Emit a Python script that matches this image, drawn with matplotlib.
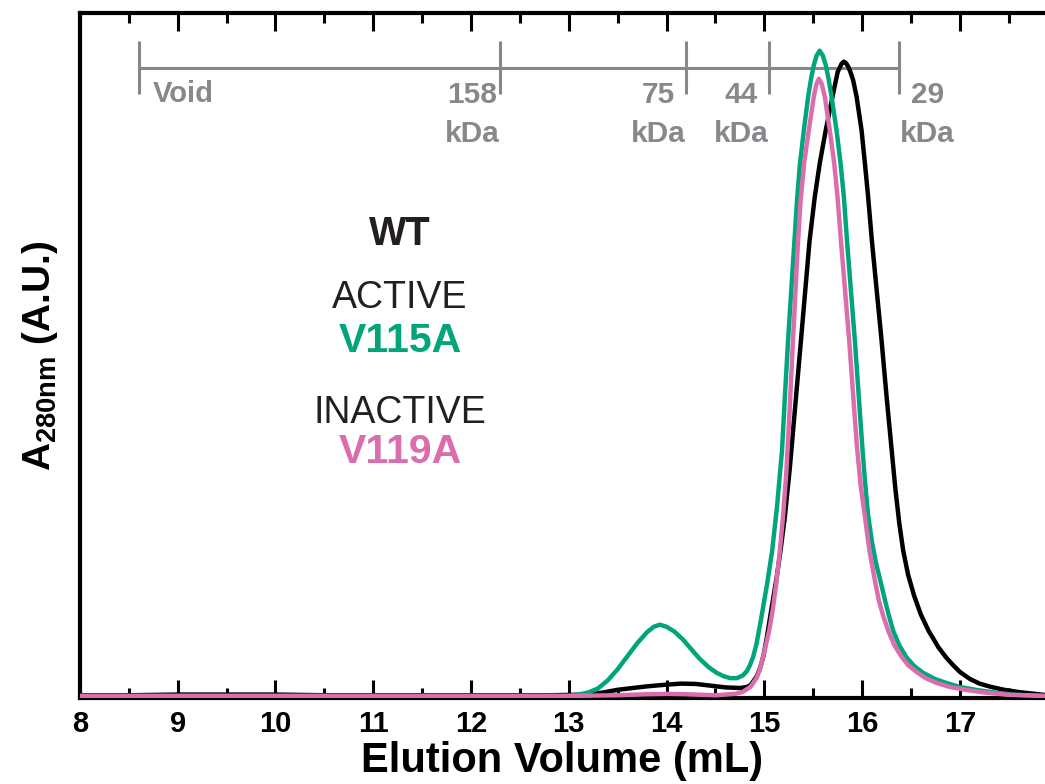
import matplotlib
matplotlib.use("Agg")
import matplotlib.pyplot as plt
from matplotlib.ticker import MultipleLocator

plt.rcParams['font.family'] = ['Liberation Sans', 'DejaVu Sans']
plt.rcParams['mathtext.fontset'] = 'custom'
plt.rcParams['mathtext.rm'] = 'Liberation Sans'
plt.rcParams['mathtext.bf'] = 'Liberation Sans:bold'

# ---------------- data ----------------
wt_x = [8.0, 8.5, 9.0, 9.5, 10.0, 10.5, 11.0, 12.0, 12.8, 13.2, 13.35, 13.5, 13.65, 13.8,
        14.0, 14.15, 14.3, 14.45, 14.6, 14.75, 14.82, 14.86, 14.92, 14.955, 14.99, 15.025,
        15.06, 15.09, 15.125, 15.165, 15.21, 15.26, 15.315, 15.37, 15.462, 15.516, 15.567,
        15.628, 15.697, 15.75, 15.79, 15.813, 15.835, 15.86, 15.885, 15.908, 15.943, 15.994,
        16.028, 16.061, 16.10, 16.198, 16.25, 16.30, 16.34, 16.38, 16.42, 16.47, 16.53, 16.60,
        16.68, 16.78, 16.86, 16.93, 17.0, 17.10, 17.2, 17.31, 17.45, 17.61, 17.87]
wt_y = [0.004, 0.004, 0.005, 0.005, 0.005, 0.004, 0.004, 0.004, 0.004, 0.005, 0.008, 0.012,
        0.0145, 0.017, 0.0195, 0.021, 0.0205, 0.018, 0.0155, 0.0146, 0.016, 0.019, 0.031,
        0.043, 0.061, 0.088, 0.119, 0.145, 0.175, 0.215, 0.265, 0.335, 0.425, 0.515, 0.667,
        0.732, 0.781, 0.829, 0.878, 0.914, 0.926, 0.929, 0.927, 0.921, 0.912, 0.902, 0.878,
        0.829, 0.781, 0.732, 0.667, 0.523, 0.440, 0.365, 0.305, 0.255, 0.215, 0.180, 0.150,
        0.122, 0.098, 0.074, 0.059, 0.048, 0.038, 0.028, 0.021, 0.0165, 0.012, 0.0085, 0.0044]

v115a_x = [8.0, 10.0, 12.0, 13.0, 13.1, 13.2, 13.3, 13.4, 13.5, 13.6, 13.7, 13.8, 13.87, 13.93,
           14.0, 14.08, 14.17, 14.26, 14.34, 14.43, 14.51, 14.58, 14.65, 14.72, 14.78, 14.82,
           14.85, 14.885, 14.92, 14.97, 15.03, 15.08, 15.13, 15.18, 15.21, 15.243, 15.275,
           15.307, 15.335, 15.363, 15.404, 15.448, 15.48, 15.506, 15.535, 15.566, 15.597,
           15.628, 15.655, 15.687, 15.738, 15.779, 15.813, 15.846, 15.925, 16.0, 16.03, 16.06,
           16.10, 16.14, 16.18, 16.23, 16.27, 16.32, 16.38, 16.45, 16.53, 16.62, 16.74, 16.86,
           17.0, 17.17, 17.35, 17.54, 17.87]
v115a_y = [0.003, 0.003, 0.003, 0.003, 0.005, 0.008, 0.014, 0.026, 0.042, 0.061, 0.080, 0.096,
           0.104, 0.107, 0.104, 0.097, 0.085, 0.070, 0.057, 0.045, 0.037, 0.032, 0.029, 0.029,
           0.033, 0.039, 0.047, 0.060, 0.079, 0.118, 0.168, 0.215, 0.280, 0.360, 0.440, 0.523,
           0.595, 0.666, 0.728, 0.778, 0.829, 0.878, 0.906, 0.924, 0.938, 0.945, 0.938, 0.924,
           0.905, 0.878, 0.829, 0.781, 0.732, 0.666, 0.523, 0.370, 0.315, 0.268, 0.228, 0.198,
           0.175, 0.145, 0.122, 0.097, 0.077, 0.060, 0.047, 0.037, 0.028, 0.022, 0.016, 0.0117,
           0.008, 0.0048, 0.003]

v119a_x = [8.0, 10.0, 12.0, 13.0, 13.5, 13.8, 14.0, 14.2, 14.5, 14.7, 14.78, 14.86, 14.92,
           14.95, 14.98, 15.015, 15.05, 15.085, 15.12, 15.155, 15.19, 15.225, 15.255, 15.285,
           15.315, 15.34, 15.37, 15.407, 15.455, 15.506, 15.53, 15.557, 15.585, 15.618, 15.669,
           15.714, 15.748, 15.784, 15.867, 15.945, 15.985, 16.028, 16.075, 16.13, 16.17, 16.215,
           16.27, 16.33, 16.40, 16.47, 16.556, 16.65, 16.761, 16.9, 17.067, 17.25, 17.477, 17.87]
v119a_y = [0.003, 0.003, 0.003, 0.003, 0.004, 0.0055, 0.006, 0.0055, 0.004, 0.006, 0.009,
           0.0165, 0.029, 0.040, 0.056, 0.077, 0.099, 0.128, 0.165, 0.210, 0.263, 0.330, 0.410,
           0.500, 0.585, 0.655, 0.725, 0.781, 0.829, 0.878, 0.895, 0.904, 0.897, 0.878, 0.829,
           0.781, 0.732, 0.666, 0.523, 0.370, 0.310, 0.265, 0.215, 0.172, 0.143, 0.120, 0.097,
           0.077, 0.061, 0.048, 0.038, 0.029, 0.022, 0.016, 0.0117, 0.008, 0.0048, 0.003]

marker_pos = [8.60, 12.30, 14.20, 15.05, 16.38]
marker_num = ["Void", "158", "75", "44", "29"]
marker_unit = ["", "kDa", "kDa", "kDa", "kDa"]
marker_side = [1, -1, -1, -1, 1]

xticks = [8, 9, 10, 11, 12, 13, 14, 15, 16, 17]

# ---------------- style ----------------
BLACK = "#000000"
GREEN = "#00A67A"
PINK = "#DB6DAD"
GRAY = "#88888C"
TXT = "#231F20"

fig = plt.figure(figsize=(10.45, 7.84), dpi=100)
ax = fig.add_axes([0.0764, 0.1097, 0.9236, 0.8737])

ax.plot(wt_x, wt_y, color=BLACK, lw=3.2, zorder=3, solid_joinstyle='round')
ax.plot(v115a_x, v115a_y, color=GREEN, lw=3.2, zorder=4, solid_joinstyle='round')
ax.plot(v119a_x, v119a_y, color=PINK, lw=3.2, zorder=5, solid_joinstyle='round')

ax.set_xlim(8.0, 17.87)
ax.set_ylim(0, 1.0)

# calibration marker bar
y_line = 0.9197
ax.plot([marker_pos[0], marker_pos[-1]], [y_line, y_line], color=GRAY, lw=2.2, zorder=2,
        solid_capstyle='butt')
for p, num, unit, side in zip(marker_pos, marker_num, marker_unit, marker_side):
    ax.plot([p, p], [0.8818, 0.959], color=GRAY, lw=2.2, zorder=2, solid_capstyle='butt')
    if unit == "":
        ax.text(p + 0.15, 0.8701, num, color=GRAY, fontsize=21, fontweight='bold',
                ha='left', va='baseline')
    else:
        cx = p + side * 0.285
        ax.text(cx, 0.8686, num, color=GRAY, fontsize=21.5, fontweight='bold',
                ha='center', va='baseline')
        ax.text(cx, 0.8117, unit, color=GRAY, fontsize=21.5, fontweight='bold',
                ha='center', va='baseline')

# annotations
tx = 11.273
ax.text(tx, 0.6613, "WT", color=TXT, fontsize=28.5, fontweight='bold', ha='center', va='baseline')
ax.text(tx, 0.5693, "ACTIVE", color=TXT, fontsize=27, ha='center', va='baseline')
ax.text(tx, 0.5051, "V115A", color=GREEN, fontsize=29.5, fontweight='bold', ha='center', va='baseline')
ax.text(tx, 0.4015, "INACTIVE", color=TXT, fontsize=27, ha='center', va='baseline')
ax.text(tx, 0.3431, "V119A", color=PINK, fontsize=29.5, fontweight='bold', ha='center', va='baseline')

# axes styling
for s in ['left', 'top', 'bottom']:
    ax.spines[s].set_linewidth(3.0)
ax.spines['right'].set_visible(False)

ax.set_xticks(xticks)
ax.set_xticklabels([str(t) for t in xticks])
ax.xaxis.set_minor_locator(MultipleLocator(0.5))
ax.tick_params(axis='x', which='major', direction='in', length=13, width=2.2, top=True,
               labelsize=21, pad=9)
ax.tick_params(axis='x', which='minor', direction='in', length=7, width=2.2, top=True)
for lab in ax.get_xticklabels():
    lab.set_fontweight('bold')
ax.set_yticks([])

ax.set_xlabel("Elution Volume (mL)", fontsize=30, fontweight='bold', labelpad=2)
ax.set_ylabel(r"A$_{\mathbf{280nm}}$ (A.U.)", fontsize=28, fontweight='bold', labelpad=14)

fig.savefig("out.png", dpi=100)
